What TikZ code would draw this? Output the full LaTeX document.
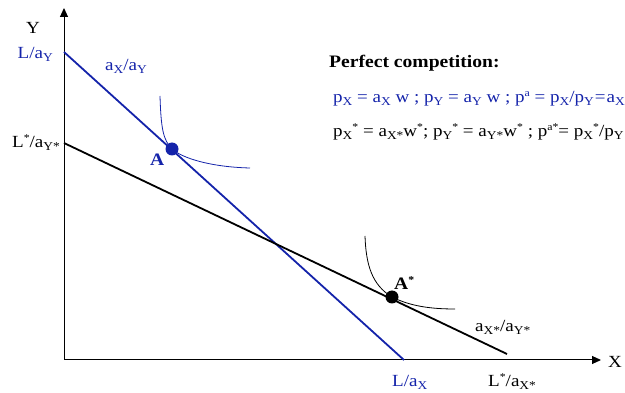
\documentclass[tikz,border=0pt]{standalone}
\usepackage{fontspec}
\setmainfont[FakeStretch=1.12]{Liberation Serif}
\usetikzlibrary{arrows.meta}
\definecolor{ricblue}{RGB}{20,35,170}
\newcommand{\lo}[1]{\raisebox{-0.35ex}{\fontsize{12}{12}\selectfont #1}}
\newcommand{\hi}[1]{\raisebox{0.85ex}{\fontsize{10.5}{10.5}\selectfont #1}}

\begin{document}
\begin{tikzpicture}[x=1pt,y=-1pt,
    lbl/.style={font=\fontsize{17}{19}\selectfont,inner sep=0pt},
    bold/.style={font=\fontsize{17.5}{19}\selectfont\bfseries},
    budget/.style={line width=1.8pt},
    indiff/.style={line width=0.8pt},
    axis/.style={line width=1pt,-{Triangle[length=9pt,width=8pt]}}]
  \useasboundingbox (0,0) rectangle (625,393);
  % axes
  \coordinate (O) at (64,360);
  \coordinate (ytop) at (64,8);
  \coordinate (xend) at (601,360);
  \draw[axis] (O) -- (ytop);
  \draw[axis] (O) -- (xend);
  \node[lbl,anchor=base] (ylab) at (33,34) {Y};
  \node[lbl,anchor=base west] (xlab) at (608,368) {X};
  % home and foreign production possibility frontiers
  \coordinate (hy) at (64,52);
  \coordinate (hx) at (404,360);
  \coordinate (fy) at (64,143);
  \coordinate (fx) at (507,354);
  \draw[budget,ricblue] (hy) -- (hx);
  \draw[budget] (fy) -- (fx);
  % autarky points and indifference curves
  \coordinate (A) at (172,149);
  \coordinate (Astar) at (392,297);
  \draw[indiff,ricblue] (160,96) .. controls (161,128) and (163,140) .. (A)
    .. controls (182,158) and (210,167) .. (250,168);
  \draw[indiff] (365,236) .. controls (366,265) and (372,285) .. (Astar)
    .. controls (410,306) and (430,309) .. (455,309);
  \fill[ricblue] (A) circle (6.5pt);
  \fill (Astar) circle (6.5pt);
  \node[lbl,bold,anchor=base west,text=ricblue] (Alab) at (150,166) {A};
  \node[lbl,bold,anchor=base west] (Aslab) at (394,290) {A\hi{*}};
  % intercepts and slopes
  \node[lbl,anchor=base east,text=ricblue] (hylab) at (53,59) {L/a\lo{Y}};
  \node[lbl,anchor=base east] (fylab) at (60,148) {L\hi{*}/a\lo{Y*}};
  \node[lbl,anchor=base west,text=ricblue] (hslab) at (105,71) {a\lo{X}/a\lo{Y}};
  \node[lbl,anchor=base west] (fslab) at (475,332) {a\lo{X*}/a\lo{Y*}};
  \node[lbl,anchor=base west,text=ricblue] (hxlab) at (392,387) {L/a\lo{X}};
  \node[lbl,anchor=base west] (fxlab) at (488,387) {L\hi{*}/a\lo{X*}};
  % prices under perfect competition
  \node[lbl,bold,anchor=base west] (pc) at (329,68) {Perfect competition:};
  \node[lbl,anchor=base west,text=ricblue] (ph) at (333,103)
    {p\lo{X} = a\lo{X} w ; p\lo{Y} = a\lo{Y} w ; p\hi{a} = p\lo{X}/p\lo{Y}\kern1pt=\kern1pta\lo{X}};
  \node[lbl,anchor=base west] (pf) at (333,137)
    {p\lo{X}\hi{*} = a\lo{X*}w\hi{*}; p\lo{Y}\hi{*} = a\lo{Y*}w\hi{*} ; p\hi{a*}= p\lo{X}\hi{*}/p\lo{Y}};
\end{tikzpicture}
\end{document}
